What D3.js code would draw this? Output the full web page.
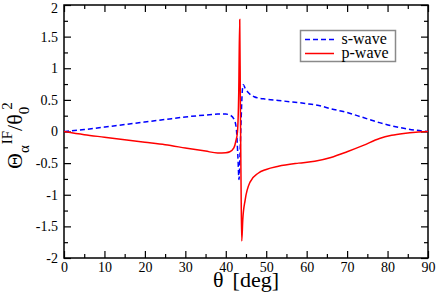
<!DOCTYPE html>
<html>
<head>
<meta charset="utf-8">
<script src="https://cdn.jsdelivr.net/npm/d3@7"></script>
<style>
html,body{margin:0;padding:0;background:#fff;}
svg{display:block;}
</style>
</head>
<body>
<svg id="chart" width="436" height="298" font-family="Liberation Serif"></svg>
<script>
// ---- data ----
const sAngles = [0,5,10,15,20,25,30,35,38,40,41,42,42.6,43.0,43.27,43.5,43.8,44.1,44.35,44.8,45.5,47,50,53,56,60,63,66,70,74,78,81,84,87,90];
const sValues = [0,0.03,0.07,0.11,0.15,0.19,0.23,0.26,0.275,0.275,0.26,0.2,0.05,-0.4,-0.76,-0.4,0.2,0.65,0.74,0.68,0.62,0.55,0.51,0.49,0.47,0.44,0.41,0.36,0.3,0.22,0.14,0.09,0.05,0.02,0];
const pAngles = [0,5,10,15,20,25,30,35,38,40,41,42,42.5,42.9,43.2,43.45,43.6,43.8,43.95,44.2,44.8,46,48,50,53,58,62,66,70,74,78,81,84,87,90];
const pValues = [0,-0.05,-0.09,-0.13,-0.17,-0.21,-0.26,-0.31,-0.34,-0.335,-0.32,-0.26,-0.15,0.0,0.6,1.77,0.5,-1.0,-1.73,-1.4,-1.08,-0.8,-0.66,-0.6,-0.55,-0.5,-0.47,-0.41,-0.32,-0.22,-0.11,-0.06,-0.03,-0.01,0];
const xTicks = [0,10,20,30,40,50,60,70,80,90];
const xMinorTicks = [5,15,25,35,45,55,65,75,85];
const yTicks = [-2,-1.5,-1,-0.5,0,0.5,1,1.5,2];
const yMinorTicks = [-1.75,-1.25,-0.75,-0.25,0.25,0.75,1.25,1.75];
const seriesNames = ["s-wave","p-wave"];

// ---- layout ----
const FONT = "Liberation Serif";
const L = 64, R = 428, T = 5, B = 258;
const svg = d3.select("#chart");
const x = d3.scaleLinear().domain([0,90]).range([L,R]);
const y = d3.scaleLinear().domain([-2,2]).range([B,T]);

const fmt = d => (d === 0 ? "0" : String(d));

function tickAxis(axisFn, scale, ticks, size, transform, labels) {
  const a = axisFn(scale).tickValues(ticks).tickSizeInner(-size).tickSizeOuter(0)
    .tickFormat(labels ? fmt : "");
  const g = svg.append("g").attr("transform", transform).call(a);
  g.attr("font-family", FONT);
  g.select(".domain").remove();
  g.selectAll(".tick line").attr("stroke","#000").attr("stroke-width",1.2);
  if (!labels) g.selectAll(".tick text").remove();
  return g;
}
const bx = tickAxis(d3.axisBottom, x, xTicks, 7, `translate(0,${B})`, true);
tickAxis(d3.axisBottom, x, xMinorTicks, 4, `translate(0,${B})`, false);
tickAxis(d3.axisTop, x, xTicks, 7, `translate(0,${T})`, false);
tickAxis(d3.axisTop, x, xMinorTicks, 4, `translate(0,${T})`, false);
const ly = tickAxis(d3.axisLeft, y, yTicks, 7, `translate(${L},0)`, true);
tickAxis(d3.axisLeft, y, yMinorTicks, 4, `translate(${L},0)`, false);
tickAxis(d3.axisRight, y, yTicks, 7, `translate(${R},0)`, false);
tickAxis(d3.axisRight, y, yMinorTicks, 4, `translate(${R},0)`, false);

bx.selectAll(".tick text").attr("font-size",14).attr("font-family",FONT)
  .attr("y",null).attr("dy",null).attr("transform","translate(0,14)").attr("fill","#000");
ly.selectAll(".tick text").attr("font-size",14).attr("font-family",FONT)
  .attr("x",-6).attr("fill","#000")
  .attr("dy", d => d === 2 ? "0.5em" : "0.32em");

// frame
svg.append("rect").attr("x",L).attr("y",T).attr("width",R-L).attr("height",B-T)
  .attr("fill","none").attr("stroke","#000").attr("stroke-width",1.5);

// lines
const line = d3.line().x(d => x(d[0])).y(d => y(d[1])).curve(d3.curveMonotoneX);
const sData = sAngles.map((a,i) => [a, sValues[i]]);
const pData = pAngles.map((a,i) => [a, pValues[i]]);
svg.append("path").datum(sData).attr("d",line).attr("fill","none")
  .attr("stroke","#0000ff").attr("stroke-width",1.5).attr("stroke-dasharray","5,3");
svg.append("path").datum(pData).attr("d",line).attr("fill","none")
  .attr("stroke","#ff0000").attr("stroke-width",1.5);

// legend
const lg = svg.append("g");
lg.append("rect").attr("x",300.5).attr("y",30.5).attr("width",95).attr("height",31)
  .attr("fill","#fff").attr("stroke","#8a8a8a").attr("stroke-width",1.5);
const legStyles = [{c:"#0000ff",dash:"5,3",yy:39.5},{c:"#ff0000",dash:null,yy:53.5}];
seriesNames.forEach((n,i) => {
  const s = legStyles[i];
  lg.append("line").attr("x1",305).attr("x2",334).attr("y1",s.yy).attr("y2",s.yy)
    .attr("stroke",s.c).attr("stroke-width",1.5).attr("stroke-dasharray",s.dash);
  lg.append("text").attr("x",341.5).attr("y",s.yy+4.5).attr("font-family",FONT)
    .attr("font-size",16).text(n);
});

// x title
const xt = svg.append("text").attr("x",246).attr("y",287).attr("text-anchor","middle")
  .attr("font-family",FONT).attr("font-size",22);
xt.append("tspan").text("θ");
xt.append("tspan").attr("dx",9).text("[deg]");

// y title
const yt = svg.append("text").attr("transform","translate(22,169) rotate(-90)")
  .attr("font-family",FONT).attr("font-size",22);
yt.append("tspan").text("Θ");
yt.append("tspan").attr("font-size",15).attr("dy",7).text("α");
yt.append("tspan").attr("font-size",15).attr("dy",-17).attr("dx",1).text("IF");
yt.append("tspan").attr("font-size",22).attr("dy",10).text("/θ");
yt.append("tspan").attr("font-size",15).attr("dy",7).text("0");
yt.append("tspan").attr("font-size",15).attr("dy",-17).attr("dx",-3).text("2");
</script>
</body>
</html>
